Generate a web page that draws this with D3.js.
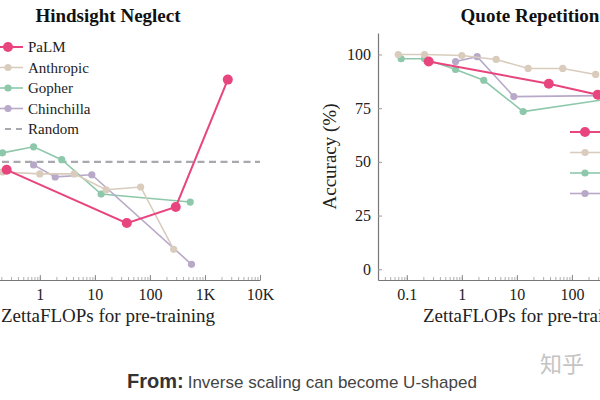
<!DOCTYPE html>
<html>
<head>
<meta charset="utf-8">
<script src="https://cdn.jsdelivr.net/npm/d3@7"></script>
<style>
  html, body { margin: 0; padding: 0; background: #fff; }
  svg { display: block; }
</style>
</head>
<body>
<svg id="chart" width="600" height="400"></svg>
<script>
// ---------- data ----------
const models = ["PaLM", "Anthropic", "Gopher", "Chinchilla"];
const colors = ["#e8457e", "#d9ccbd", "#8ec8ab", "#b8a9c8"];

const palmFlops       = [0.25, 38, 295, 2600];
const anthropicFlops  = [0.07, 0.21, 1.0, 4.2, 16, 68, 270];
const gopherFlops     = [0.079, 0.21, 0.77, 2.5, 13, 540];
const chinchillaFlops = [0.77, 1.9, 8.8, 570];

const palmHindsight       = [46.3, 21.5, 29, 88.3];
const anthropicHindsight  = [45, 45.3, 44.4, 44.4, 37, 38.3, 9.3];
const gopherHindsight     = [54, 54.2, 57, 51, 35, 31.3];
const chinchillaHindsight = [48.6, 43, 44, 2.3];
const hindsightRandom = 50;

const palmQuote       = [96.7, 86.4, 81.3, 78];
const anthropicQuote  = [100, 100, 99.5, 97.7, 93.5, 93.5, 90.7];
const gopherQuote     = [98, 98, 93, 88, 73.4, 79.5];
const chinchillaQuote = [96.7, 99, 80.4, 80.9];

const xTickValues = [0.1, 1, 10, 100, 1000, 10000];
const xTickLabels = ["0.1", "1", "10", "100", "1K", "10K"];
const yTickValues = [0, 25, 50, 75, 100];

const panelTitles = ["Hindsight Neglect", "Quote Repetition"];
const xAxisTitle = "ZettaFLOPs for pre-training";
const yAxisTitle = "Accuracy (%)";

// ---------- drawing ----------
const svg = d3.select("#chart");
const serif = "'Liberation Serif', 'Times New Roman', serif";
const sans = "'Liberation Sans', Arial, sans-serif";

const flops = [palmFlops, anthropicFlops, gopherFlops, chinchillaFlops];
const panels = [
  { title: panelTitles[0], x0: -44, x1: 260,
    values: [palmHindsight, anthropicHindsight, gopherHindsight, chinchillaHindsight],
    random: hindsightRandom, legend: { x: 8, y: 47, random: true } },
  { title: panelTitles[1], x0: 378, x1: 682,
    values: [palmQuote, anthropicQuote, gopherQuote, chinchillaQuote],
    random: null, legend: { x: 585, y: 132, random: false } }
];

const yTop = 33, yBottom = 280;
const y = d3.scaleLinear().domain([-5, 110]).range([yBottom, yTop]);

panels.forEach(p => {
  const x = d3.scaleLog().domain([0.03, 10000]).range([p.x0, p.x1]);
  const g = svg.append("g");

  // title
  g.append("text").attr("x", (p.x0 + p.x1) / 2).attr("y", 22)
    .attr("text-anchor", "middle").attr("font-family", serif)
    .attr("font-weight", "bold").attr("font-size", 19).attr("fill", "#111")
    .text(p.title);

  // x axis (ticks pointing inward)
  const minor = [];
  for (let e = -2; e <= 3; e++) for (let k = 1; k <= 9; k++) {
    const v = k * Math.pow(10, e);
    if (v >= 0.03 && v <= 10000) minor.push(v);
  }
  const xAxis = d3.axisBottom(x).tickValues(minor)
    .tickSize(-3).tickFormat("").tickSizeOuter(0);
  const xa = g.append("g").attr("transform", `translate(0,${yBottom})`).call(xAxis);
  xa.select(".domain").attr("stroke", "#777").attr("stroke-width", 1.2);
  xa.selectAll(".tick line").attr("stroke", "#999").attr("stroke-width", 0.8);
  const xMajor = d3.axisBottom(x).tickValues(xTickValues)
    .tickSize(-5).tickPadding(8)
    .tickFormat((d, i) => xTickLabels[i]).tickSizeOuter(0);
  const xb = g.append("g").attr("transform", `translate(0,${yBottom})`).call(xMajor);
  xb.select(".domain").remove();
  xb.selectAll(".tick line").attr("stroke", "#888").attr("stroke-width", 1);
  xb.selectAll(".tick text").attr("font-family", serif).attr("font-size", 16)
    .attr("fill", "#222").attr("dy", "0.75em");

  // y axis
  const yAxis = d3.axisLeft(y).tickValues(yTickValues).tickSize(-4)
    .tickPadding(7).tickSizeOuter(0);
  const ya = g.append("g").attr("transform", `translate(${p.x0},0)`).call(yAxis);
  ya.select(".domain").attr("stroke", "#777").attr("stroke-width", 1.2);
  ya.selectAll(".tick line").attr("stroke", "#999");
  ya.selectAll(".tick text").attr("font-family", serif).attr("font-size", 16)
    .attr("fill", "#222").attr("x", -7);

  // axis titles
  g.append("text").attr("x", (p.x0 + p.x1) / 2).attr("y", 322)
    .attr("text-anchor", "middle").attr("font-family", serif)
    .attr("font-size", 19).attr("fill", "#222").text(xAxisTitle);
  g.append("text").attr("transform", `translate(${p.x0 - 42},${(yTop + yBottom) / 2}) rotate(-90)`)
    .attr("text-anchor", "middle").attr("font-family", serif)
    .attr("font-size", 19).attr("fill", "#222").text(yAxisTitle);

  // random baseline
  if (p.random !== null) {
    g.append("line").attr("x1", x(0.03)).attr("x2", x(10000))
      .attr("y1", y(p.random)).attr("y2", y(p.random))
      .attr("stroke", "#a8a8ae").attr("stroke-width", 2.2)
      .attr("stroke-dasharray", "7,4.5");
  }

  // series (draw PaLM last so it sits on top)
  const order = [2, 3, 1, 0];
  order.forEach(i => {
    const pts = flops[i].map((f, j) => [f, p.values[i][j]]);
    const isPalm = i === 0;
    g.append("path").datum(pts)
      .attr("fill", "none").attr("stroke", colors[i])
      .attr("stroke-width", isPalm ? 2 : 1.6)
      .attr("d", d3.line().x(d => x(d[0])).y(d => y(d[1])));
    g.selectAll(null).data(pts).enter().append("circle")
      .attr("cx", d => x(d[0])).attr("cy", d => y(d[1]))
      .attr("r", isPalm ? 5 : 3.6).attr("fill", colors[i]);
  });

  // legend
  const L = p.legend;
  const rowH = 20.5;
  models.forEach((m, i) => {
    const cy = L.y + i * rowH;
    g.append("line").attr("x1", L.x - 15).attr("x2", L.x + 15)
      .attr("y1", cy).attr("y2", cy)
      .attr("stroke", colors[i]).attr("stroke-width", i === 0 ? 2 : 1.6);
    g.append("circle").attr("cx", L.x).attr("cy", cy)
      .attr("r", i === 0 ? 5 : 3.6).attr("fill", colors[i]);
    g.append("text").attr("x", L.x + 20).attr("y", cy + 5)
      .attr("font-family", serif).attr("font-size", 15).attr("fill", "#222")
      .text(m);
  });
  if (L.random) {
    const cy = L.y + 4 * rowH;
    g.append("line").attr("x1", L.x - 15).attr("x2", L.x + 15)
      .attr("y1", cy).attr("y2", cy)
      .attr("stroke", "#a8a8ae").attr("stroke-width", 2)
      .attr("stroke-dasharray", "6,5").attr("stroke-dashoffset", -1);
    g.append("text").attr("x", L.x + 20).attr("y", cy + 5)
      .attr("font-family", serif).attr("font-size", 15).attr("fill", "#222")
      .text("Random");
  }
});

// The reference is a crop of a wider figure: texts lying wholly outside
// the visible frame are not shown there, so drop them.
svg.selectAll("text").each(function () {
  const r = this.getBoundingClientRect();
  if (r.right <= 0 || r.left >= 600) d3.select(this).remove();
});

// caption
const cap = svg.append("text").attr("x", 127).attr("y", 388)
  .attr("font-family", sans).attr("fill", "#333");
cap.append("tspan").attr("font-size", 20).attr("font-weight", "bold").text("From:");
cap.append("tspan").attr("font-size", 17).attr("dx", 4).attr("fill", "#444")
  .text("Inverse scaling can become U-shaped");

// watermark
svg.append("text").attr("x", 540).attr("y", 372)
  .attr("font-family", "'Noto Sans CJK SC', sans-serif").attr("font-size", 22)
  .attr("fill", "#c4c4c4").text("知乎");
</script>
</body>
</html>
